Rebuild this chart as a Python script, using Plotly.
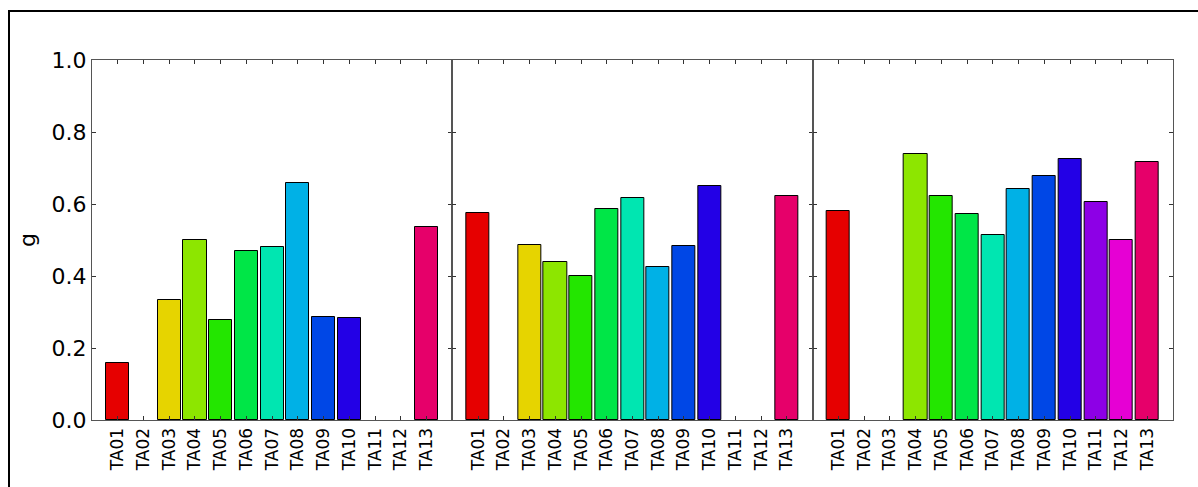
import colorsys
import plotly.graph_objects as go

categories = ["TA01", "TA02", "TA03", "TA04", "TA05", "TA06", "TA07",
              "TA08", "TA09", "TA10", "TA11", "TA12", "TA13"]

panel1 = [0.157, None, 0.333, 0.501, 0.277, 0.469, 0.480, 0.658, 0.285, 0.284, None, None, 0.535]
panel2 = [0.575, None, 0.487, 0.438, 0.401, 0.586, 0.617, 0.425, 0.482, 0.649, None, None, 0.623]
panel3 = [0.581, None, None, 0.739, 0.621, 0.572, 0.515, 0.642, 0.678, 0.725, 0.606, 0.500, 0.718]
panels = [panel1, panel2, panel3]

ytick_vals = [0.0, 0.2, 0.4, 0.6, 0.8, 1.0]
ytick_text = ["0.0", "0.2", "0.4", "0.6", "0.8", "1.0"]
y_label = "g"

n = len(categories)
colors = []
for i in range(n):
    r, g, b = colorsys.hsv_to_rgb(i / n, 1.0, 0.9)
    colors.append("rgb(%d,%d,%d)" % (round(r * 255), round(g * 255), round(b * 255)))

W, H = 1198, 487
ml, mr, mt, mb = 92, 25, 60, 67

fig = go.Figure()
xpos = list(range(n))
for k, vals in enumerate(panels):
    xa = "x" if k == 0 else "x%d" % (k + 1)
    fig.add_trace(go.Bar(
        x=xpos, y=vals, xaxis=xa, yaxis="y" if k == 0 else "y%d" % (k + 1),
        width=0.9,
        marker=dict(color=colors, line=dict(color="black", width=1)),
        showlegend=False, hoverinfo="x+y",
    ))

axis_line = "#555555"
layout = dict(
    width=W, height=H,
    margin=dict(l=ml, r=mr, t=mt, b=mb, pad=0),
    paper_bgcolor="white", plot_bgcolor="white",
    bargap=0,
    font=dict(family="DejaVu Sans", color="black"),
)
for k in range(3):
    suffix = "" if k == 0 else str(k + 1)
    layout["xaxis" + suffix] = dict(
        domain=[k / 3, (k + 1) / 3],
        range=[-1, 13],
        tickmode="array", tickvals=xpos, ticktext=categories,
        tickangle=-90, tickfont=dict(size=17, family="DejaVu Sans"),
        ticks="inside", ticklen=4, tickcolor="#333333",
        showline=True, linecolor=axis_line, linewidth=1.3, mirror="ticks",
        showgrid=False, zeroline=False, fixedrange=True,
        anchor="y" + suffix,
    )
    ya = dict(
        domain=[0, 1], range=[0, 1],
        tickmode="array", tickvals=ytick_vals,
        ticktext=ytick_text if k == 0 else [""] * len(ytick_vals),
        tickfont=dict(size=22, family="DejaVu Sans"),
        ticks="inside", ticklen=4, tickcolor="#333333",
        showline=True, linecolor=axis_line, linewidth=1.3, mirror="ticks",
        showgrid=False, zeroline=False, fixedrange=True,
        anchor="x" + suffix,
    )
    if k == 0:
        ya["title"] = dict(text=y_label, font=dict(size=22, family="DejaVu Sans"), standoff=9)
    layout["yaxis" + suffix] = ya

fig.update_layout(**layout)

# outer frame of the figure
pw = W - ml - mr
ph = H - mt - mb
fig.add_shape(type="rect", xref="paper", yref="paper",
              x0=(9 - ml) / pw, x1=(W + 20 - ml) / pw,
              y0=-(H + 20 - mt - ph) / ph, y1=1 + (mt - 11) / ph,
              line=dict(color="black", width=2), fillcolor="rgba(0,0,0,0)",
              layer="below")

fig.write_html("out.html",
               config={"displayModeBar": False},
               post_script="document.body.style.margin='0';document.body.style.overflow='hidden';")
